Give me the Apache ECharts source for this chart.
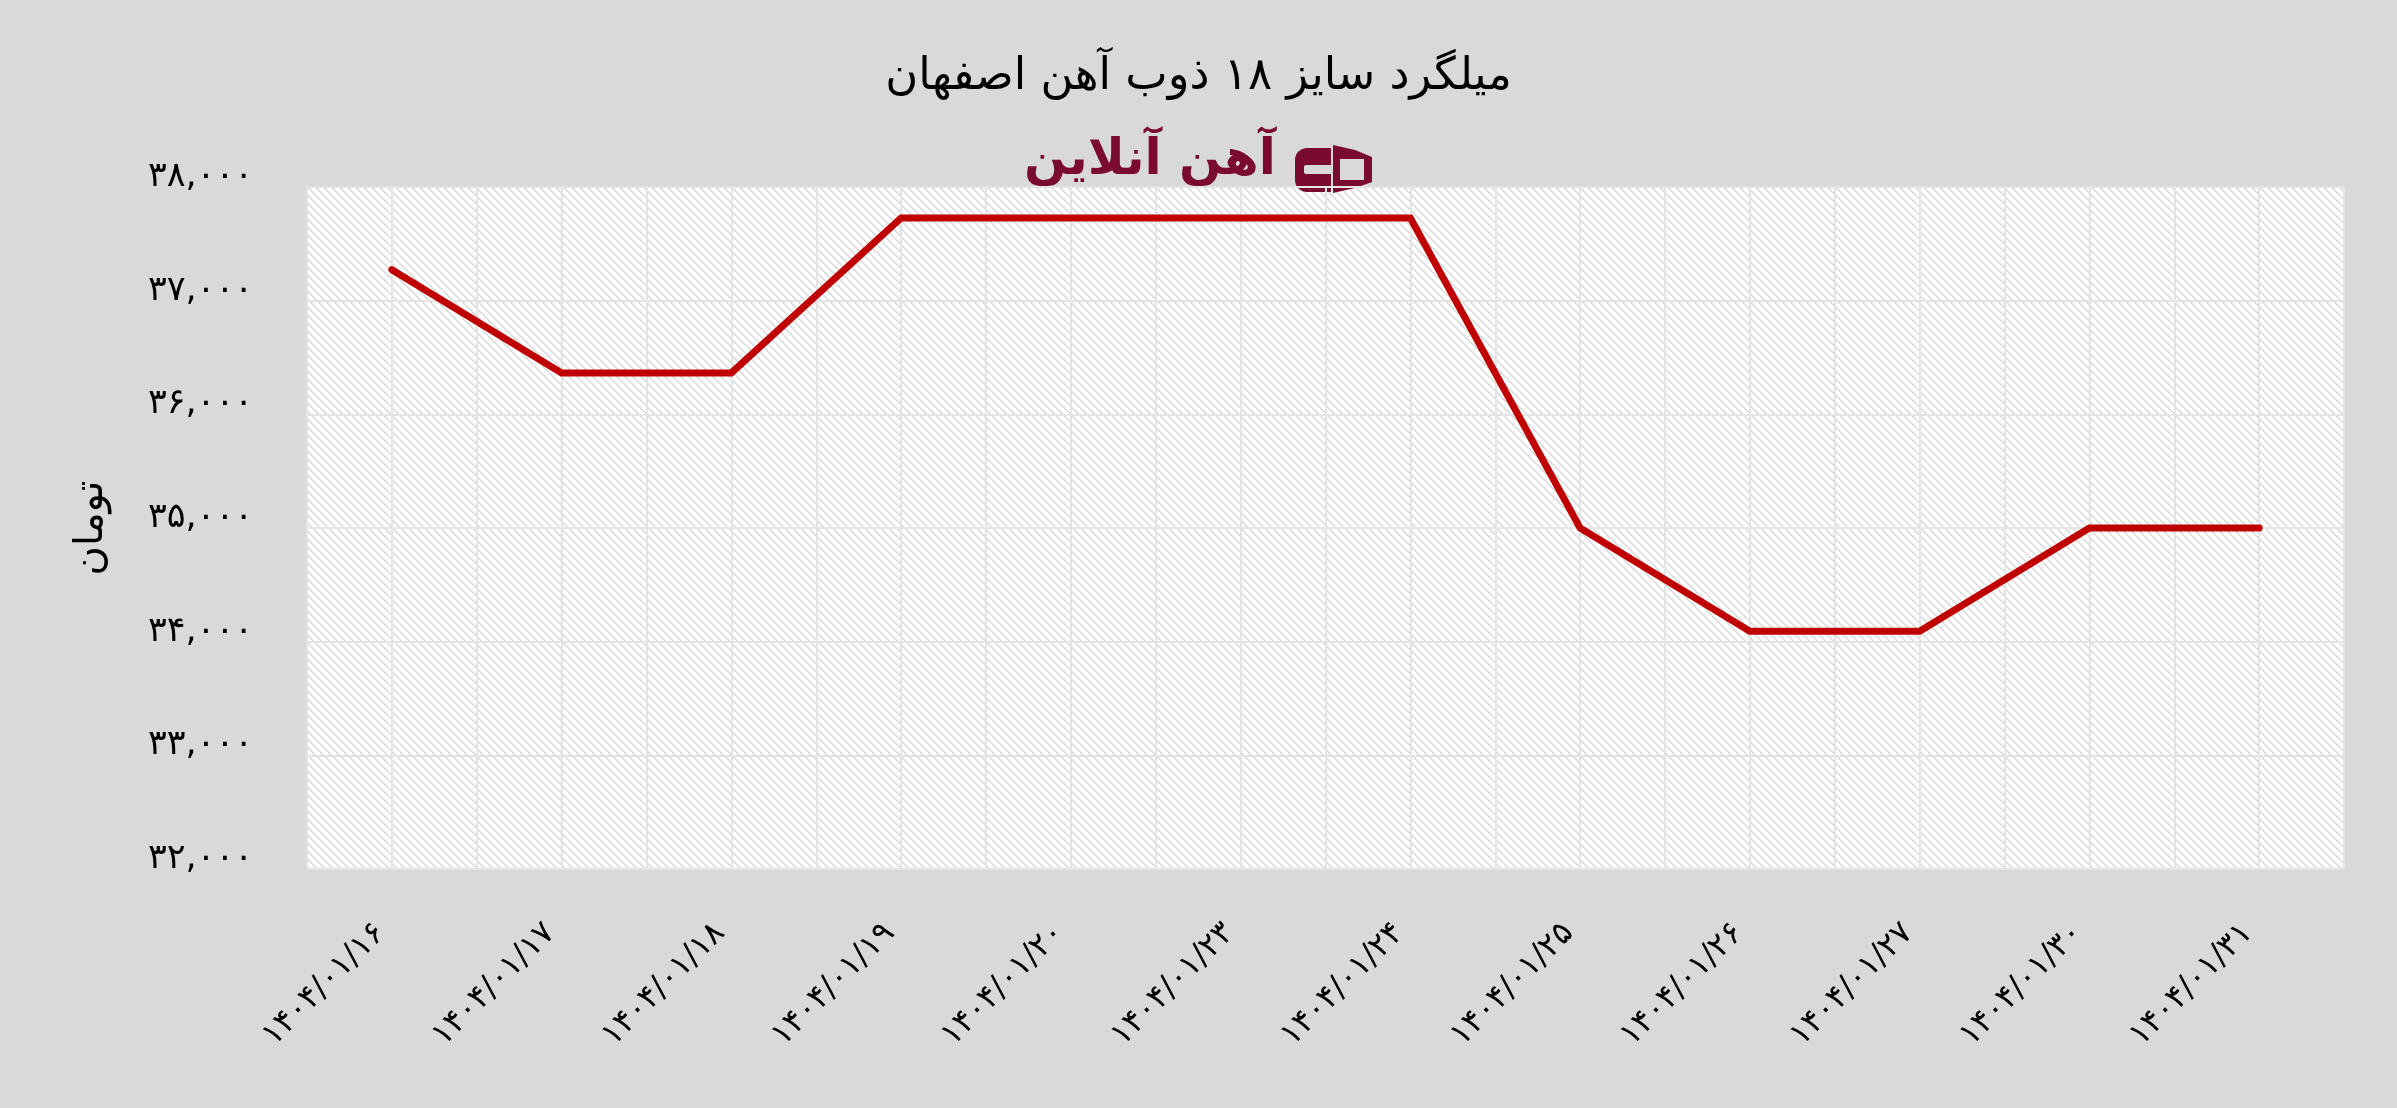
<!DOCTYPE html>
<html>
<head>
<meta charset="utf-8">
<script src="https://cdn.jsdelivr.net/npm/echarts@6/dist/echarts.min.js"></script>
<style>
html,body{margin:0;padding:0;background:#d9d9d9;}
#chart{width:2397px;height:1108px;}
</style>
</head>
<body>
<div id="chart"></div>
<script>
const chartTitle = 'میلگرد سایز ۱۸ ذوب آهن اصفهان';
const brandText = 'آهن آنلاین';
const yAxisName = 'تومان';
const categories = ['۱۴۰۴/۰۱/۱۶','۱۴۰۴/۰۱/۱۷','۱۴۰۴/۰۱/۱۸','۱۴۰۴/۰۱/۱۹','۱۴۰۴/۰۱/۲۰','۱۴۰۴/۰۱/۲۳','۱۴۰۴/۰۱/۲۴','۱۴۰۴/۰۱/۲۵','۱۴۰۴/۰۱/۲۶','۱۴۰۴/۰۱/۲۷','۱۴۰۴/۰۱/۳۰','۱۴۰۴/۰۱/۳۱'];
const prices = [37273, 36364, 36364, 37727, 37727, 37727, 37727, 35000, 34091, 34091, 35000, 35000];
const yMin = 32000, yMax = 38000, yStep = 1000;
const yTickLabels = ['۳۲,۰۰۰','۳۳,۰۰۰','۳۴,۰۰۰','۳۵,۰۰۰','۳۶,۰۰۰','۳۷,۰۰۰','۳۸,۰۰۰'];

const FONT = "'DejaVu Sans', 'Noto Sans', sans-serif";

// diagonal stripe pattern for plot background
const pc = document.createElement('canvas');
pc.width = 8; pc.height = 8;
const pctx = pc.getContext('2d');
pctx.fillStyle = '#ffffff'; pctx.fillRect(0,0,8,8);
pctx.fillStyle = '#dadada';
for (let y = 0; y < 8; y++) {
  for (let x = 0; x < 8; x++) {
    const m = ((x - y) % 8 + 8) % 8;
    if (m === 0 || m === 1) pctx.fillRect(x, y, 1, 1);
  }
}

const chart = echarts.init(document.getElementById('chart'), null, {renderer:'canvas'});
const maroon = '#7a0a30';
chart.setOption({
  backgroundColor: '#d9d9d9',
  animation: false,
  title: {
    text: chartTitle, left: 'center', top: 50,
    textStyle: {fontFamily: FONT, fontSize: 45, fontWeight: 'normal', color: '#000'}
  },
  grid: {
    left: 307, right: 53, top: 187, bottom: 239,
    show: true, borderWidth: 0,
    backgroundColor: {image: pc, repeat: 'repeat'}
  },
  xAxis: [
    {
      type: 'category', data: categories, boundaryGap: true,
      axisLine: {show: false}, axisTick: {show: false}, splitLine: {show: false},
      axisLabel: {
        rotate: 45, margin: 48, fontSize: 32, fontFamily: FONT, color: '#000',
        verticalAlign: 'middle', padding: [0, 16, 0, 0], interval: 0
      }
    },
    {
      type: 'value', min: 0, max: 24, interval: 1, position: 'top',
      axisLine: {show: false}, axisTick: {show: false}, axisLabel: {show: false},
      splitLine: {show: true, lineStyle: {color: '#e4e4e4', width: 2}}
    }
  ],
  yAxis: {
    type: 'value', min: yMin, max: yMax, interval: yStep,
    name: yAxisName, nameLocation: 'middle', nameGap: 195, nameRotate: 90,
    nameTextStyle: {fontFamily: FONT, fontSize: 40, color: '#000'},
    axisLine: {show: false}, axisTick: {show: false},
    axisLabel: {
      margin: 54, fontSize: 35, fontFamily: FONT, color: '#000',
      verticalAlign: 'bottom', lineHeight: 20,
      formatter: function (v) { return yTickLabels[Math.round((v - yMin) / yStep)]; }
    },
    splitLine: {show: true, lineStyle: {color: '#e4e4e4', width: 2}}
  },
  series: [{
    type: 'line', data: prices, xAxisIndex: 0, symbol: 'none', smooth: false,
    lineStyle: {color: '#c00000', width: 7, cap: 'round', join: 'miter'}
  }],
  graphic: [
    {
      type: 'text', left: 1024, top: 136,
      style: {text: brandText, font: "bold 50px " + FONT, fill: maroon}
    },
    {
      type: 'group', left: 1295, top: 145,
      children: [
        {type: 'rect', shape: {x: 0, y: 3, width: 36, height: 44, r: [12, 0, 0, 12]}, style: {fill: maroon}},
        {type: 'rect', shape: {x: 9, y: 20, width: 27, height: 9, r: [2, 0, 0, 2]}, style: {fill: '#d9d9d9'}},
        {type: 'polygon', shape: {points: [[38,0],[60,5],[77,12],[77,37],[60,43],[38,48]]}, style: {fill: maroon}},
        {type: 'rect', shape: {x: 45, y: 14, width: 24, height: 21}, style: {fill: '#d9d9d9'}}
      ]
    }
  ]
});
</script>
</body>
</html>
